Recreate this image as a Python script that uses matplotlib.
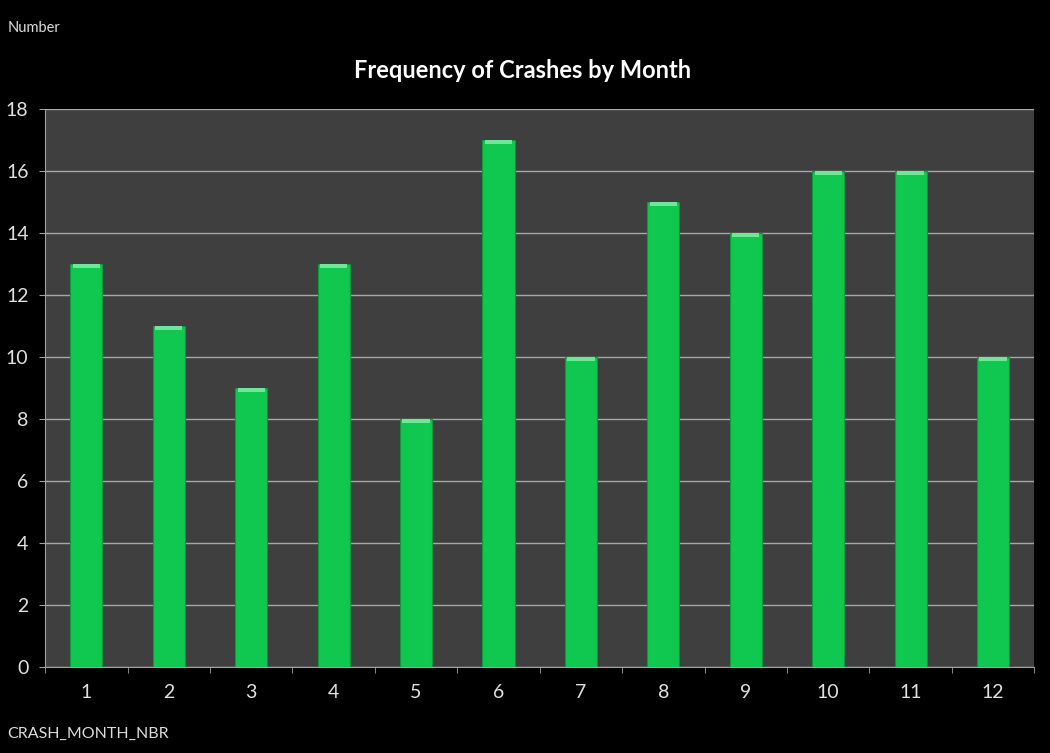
import matplotlib.pyplot as plt
import numpy as np

# Dados
meses = [1, 2, 3, 4, 5, 6, 7, 8, 9, 10, 11, 12]
frequencia = [13, 11, 9, 13, 8, 17, 10, 15, 14, 16, 16, 10]
yticks = [0, 2, 4, 6, 8, 10, 12, 14, 16, 18]

plt.rcParams['font.family'] = ['Lato', 'DejaVu Sans']

fig = plt.figure(figsize=(10.5, 7.53), dpi=100, facecolor="black")
ax = fig.add_axes([0.043, 0.114, 0.942, 0.741])
ax.set_facecolor("#3f3f3f")

x = np.arange(len(meses))
ax.set_axisbelow(True)
ax.yaxis.grid(True, color="#a8a8a8", linewidth=1)
ax.bar(x, frequencia, width=0.39, color="#10c850", edgecolor="#0a9a3a",
       linewidth=0.8, zorder=2)
# brilho no topo das barras
ax.bar(x, [0.12] * len(x), bottom=np.array(frequencia) - 0.12, width=0.33,
       color="#6ee898", linewidth=0, zorder=3)

ax.set_xlim(-0.5, len(meses) - 0.5)
ax.set_ylim(0, 18)
ax.set_yticks(yticks)
ax.set_xticks(x)
ax.set_xticklabels([str(m) for m in meses])
ax.set_xticks(np.arange(-0.5, len(meses)), minor=True)

ax.tick_params(axis="x", which="major", length=0, pad=12,
               colors="#e0e0e0", labelsize=14)
ax.tick_params(axis="x", which="minor", length=4, color="#a0a0a0")
ax.tick_params(axis="y", length=4, color="#a0a0a0", colors="#e0e0e0",
               labelsize=14, pad=8)

for lado in ["top", "right"]:
    ax.spines[lado].set_visible(False)
ax.spines["left"].set_color("#a0a0a0")
ax.spines["bottom"].set_color("#a0a0a0")

fig.text(0.498, 0.906, "Frequency of Crashes by Month", ha="center",
         va="center", color="white", fontsize=17, fontweight="bold")
fig.text(0.007, 0.963, "Number", ha="left", va="center", color="#dcdcdc",
         fontsize=10.5)
fig.text(0.007, 0.025, "CRASH_MONTH_NBR", ha="left", va="center",
         color="#dcdcdc", fontsize=11.5)

fig.savefig("out.png", dpi=100, facecolor="black")
